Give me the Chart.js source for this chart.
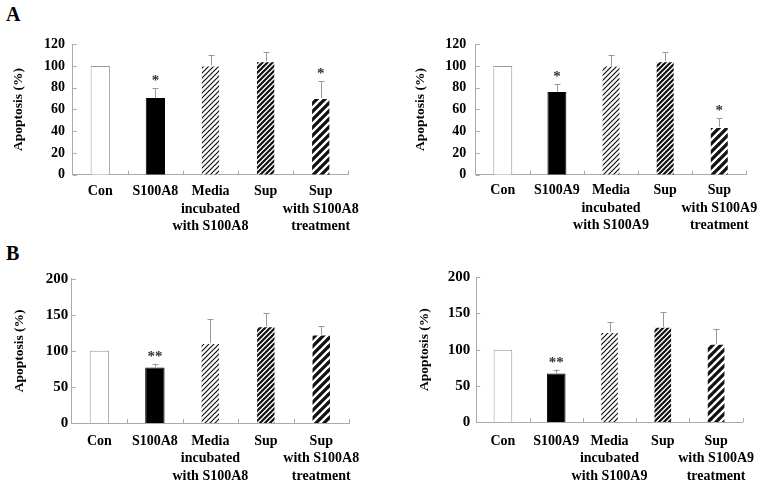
<!DOCTYPE html>
<html>
<head>
<meta charset="utf-8">
<script src="https://cdn.jsdelivr.net/npm/chart.js@4/dist/chart.umd.min.js"></script>
<style>
  html, body { margin: 0; padding: 0; background: #fff; }
  #wrap { position: relative; width: 766px; height: 486px; overflow: hidden; }
  canvas { position: absolute; }
  .tag { position: absolute; font: bold 20px "Liberation Serif", serif; color: #000; }
</style>
</head>
<body>
<div id="wrap">
  <div class="tag" style="left:6px; top:3px;">A</div>
  <div class="tag" style="left:6px; top:242px;">B</div>
  <canvas id="a8a" width="383" height="243" style="left:0; top:0;"></canvas>
  <canvas id="a9a" width="383" height="243" style="left:383px; top:0;"></canvas>
  <canvas id="a8b" width="383" height="243" style="left:0; top:243px;"></canvas>
  <canvas id="a9b" width="383" height="243" style="left:383px; top:243px;"></canvas>
</div>
<script>
// Categories
const labelsA8 = ['Con', 'S100A8', ['Media', 'incubated', 'with S100A8'], 'Sup', ['Sup', 'with S100A8', 'treatment']];
const labelsA9 = ['Con', 'S100A9', ['Media', 'incubated', 'with S100A9'], 'Sup', ['Sup', 'with S100A9', 'treatment']];

// Panel A values (%) and error (SD)
const valuesA8a = [100, 70.5, 100.5, 104.5, 70.5];
const errorsA8a = [0, 9, 9.5, 8, 15.5];
const starsA8a = ['', '*', '', '', '*'];

const valuesA9a = [100, 76, 100.5, 104.5, 44];
const errorsA9a = [0, 7.5, 9.5, 8, 8];
const starsA9a = ['', '*', '', '', '*'];

// Panel B values (%) and error (SD)
const valuesA8b = [100, 77, 111, 134, 122.5];
const errorsA8b = [0, 5, 33, 18, 11.5];
const starsA8b = ['', '**', '', '', ''];

const valuesA9b = [100, 67, 124.5, 131.5, 108];
const errorsA9b = [0, 5.5, 13.5, 20, 21];
const starsA9b = ['', '**', '', '', ''];

Chart.defaults.font.family = '"Liberation Serif", "Times New Roman", serif';
Chart.defaults.font.weight = 'bold';
Chart.defaults.color = '#000';
Chart.defaults.animation = false;

// Diagonal hatch pattern
function hatch(size, lw) {
    const c = document.createElement('canvas');
    c.width = size;
    c.height = size;
    const g = c.getContext('2d');
    g.fillStyle = '#fff';
    g.fillRect(0, 0, size, size);
    g.strokeStyle = '#111';
    g.lineWidth = lw;
    g.beginPath();
    g.moveTo(-1, size + 1); g.lineTo(size + 1, -1);
    g.moveTo(-1, 1); g.lineTo(1, -1);
    g.moveTo(size - 1, size + 1); g.lineTo(size + 1, size - 1);
    g.stroke();
    return g.createPattern(c, 'repeat');
}

const fills = ['#ffffff', '#000000', hatch(5, 1.2), hatch(5, 2.2), hatch(8, 3.2)];
const borders = ['#999999', '#000000', 'rgba(0,0,0,0)', 'rgba(0,0,0,0)', 'rgba(0,0,0,0)'];

// Error bars, stars and inward axis ticks
const extras = {
    id: 'extras',
    afterDatasetsDraw(chart, args, opts) {
        const ctx = chart.ctx;
        const y = chart.scales.y;
        const x = chart.scales.x;
        const area = chart.chartArea;
        const bars = chart.getDatasetMeta(0).data;
        const vals = chart.data.datasets[0].data;

        ctx.save();
        ctx.strokeStyle = '#aaa';
        ctx.lineWidth = 1;
        // inward ticks
        ctx.beginPath();
        y.ticks.forEach(t => {
            const py = Math.round(y.getPixelForValue(t.value)) + 0.5;
            ctx.moveTo(area.left, py);
            ctx.lineTo(area.left + 4, py);
        });
        const n = vals.length;
        for (let i = 1; i <= n; i++) {
            const px = Math.round(area.left + i * (area.right - area.left) / n) + 0.5;
            ctx.moveTo(px, area.bottom);
            ctx.lineTo(px, area.bottom - 4);
        }
        ctx.stroke();

        // error bars
        ctx.strokeStyle = '#999';
        ctx.beginPath();
        bars.forEach((bar, i) => {
            if (!opts.err[i]) return;
            const top = y.getPixelForValue(vals[i] + opts.err[i]);
            const px = Math.round(bar.x) + 0.5;
            ctx.moveTo(px, bar.y);
            ctx.lineTo(px, top);
            ctx.moveTo(px - 3, Math.round(top) + 0.5);
            ctx.lineTo(px + 3, Math.round(top) + 0.5);
        });
        ctx.stroke();

        // significance marks
        ctx.fillStyle = '#333';
        ctx.font = 'bold 15px "Liberation Serif", serif';
        ctx.textAlign = 'center';
        ctx.textBaseline = 'alphabetic';
        bars.forEach((bar, i) => {
            if (!opts.stars[i]) return;
            const top = y.getPixelForValue(vals[i] + opts.err[i]);
            ctx.fillText(opts.stars[i], bar.x, top - 3);
        });
        ctx.restore();
    }
};

function panel(id, labels, values, errors, stars, lay) {
    new Chart(document.getElementById(id), {
        type: 'bar',
        data: {
            labels: labels,
            datasets: [{
                data: values,
                backgroundColor: fills,
                borderColor: borders,
                borderWidth: 1,
                barPercentage: 0.35,
                categoryPercentage: 1
            }]
        },
        options: {
            responsive: false,
            layout: { padding: { top: lay.top, right: lay.right, left: 0, bottom: 0 } },
            plugins: {
                legend: { display: false },
                tooltip: { enabled: false },
                extras: { err: errors, stars: stars }
            },
            scales: {
                x: {
                    grid: { display: false, drawTicks: false },
                    border: { color: '#aaa' },
                    ticks: { padding: lay.labelPad, font: { size: 14, lineHeight: 1.24 }, maxRotation: 0, autoSkip: false },
                    afterFit: s => { s.height = lay.xh; }
                },
                y: {
                    min: 0,
                    max: lay.max,
                    grid: { display: false, drawTicks: false },
                    border: { color: '#aaa' },
                    ticks: { stepSize: lay.step, padding: lay.tickPad, font: { size: lay.tickSize } },
                    title: {
                        display: true,
                        text: 'Apoptosis (%)',
                        font: { size: 13.5, lineHeight: 1.2 },
                        padding: { top: lay.titlePad, bottom: 0 }
                    },
                    afterFit: s => { s.width = lay.yw; }
                }
            }
        },
        plugins: [extras]
    });
}

panel('a8a', labelsA8, valuesA8a, errorsA8a, starsA8a,
    { top: 44.3, right: 383 - 348.3, xh: 243 - 174.7, yw: 72.7, max: 120, step: 20, tickPad: 7.7, tickSize: 14, titlePad: 10.9, labelPad: 8.3 });
panel('a9a', labelsA9, valuesA9a, errorsA9a, starsA9a,
    { top: 44.3, right: 766 - 751.3, xh: 243 - 174.7, yw: 475.7 - 383, max: 120, step: 20, tickPad: 9.4, tickSize: 14, titlePad: 420.5 - 383 - 8.1, labelPad: 7.3 });
panel('a8b', labelsA8, valuesA8b, errorsA8b, starsA8b,
    { top: 278.7 - 243, right: 383 - 349, xh: 486 - 423, yw: 71.7, max: 200, step: 50, tickPad: 3.5, tickSize: 15, titlePad: 11.4, labelPad: 9.6 });
panel('a9b', labelsA9, valuesA9b, errorsA9b, starsA9b,
    { top: 277.3 - 243, right: 766 - 752, xh: 486 - 422, yw: 476.3 - 383, max: 200, step: 50, tickPad: 6, tickSize: 15, titlePad: 425 - 383 - 8.1, labelPad: 10.6 });
</script>
</body>
</html>
